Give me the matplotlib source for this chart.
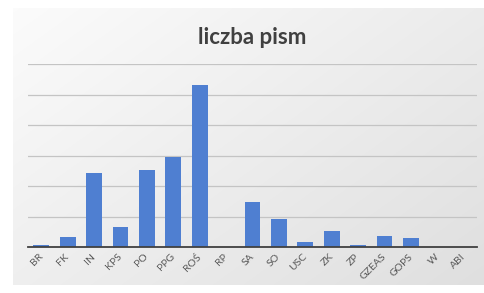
import numpy as np
import matplotlib
matplotlib.use("Agg")
import matplotlib.pyplot as plt

categories = ["BR", "FK", "IN", "KPS", "PO", "PPG", "ROŚ", "RP", "SA", "SO",
              "USC", "ZK", "ZP", "GZEAS", "GOPS", "W", "ABI"]
values = [3, 16, 121, 33, 127, 147, 266, 0, 74, 46, 8, 27, 3, 18, 14, 0, 0]
title = "liczba pism"

plt.rcParams['font.family'] = ['Lato', 'DejaVu Sans']

W, H = 484, 293
fig = plt.figure(figsize=(W / 100, H / 100), dpi=100)
fig.patch.set_facecolor("white")

# gradient chart-area background
bg = fig.add_axes([13 / W, 1 - 285 / H, (W - 13) / W, (285 - 8) / H], zorder=0)
yy, xx = np.mgrid[0:1:200j, 0:1:300j]
grad = 0.985 - 0.11 * (0.55 * xx + 0.45 * yy)
bg.imshow(np.dstack([grad, grad, grad]), aspect="auto", extent=[0, 1, 0, 1], origin="upper")
bg.set_axis_off()

ax = fig.add_axes([28 / W, 1 - 247 / H, (477 - 28) / W, (247 - 64) / H], zorder=1)
ax.patch.set_alpha(0)
x = np.arange(len(categories))
ax.bar(x, values, width=0.6, color="#4f7fd1", zorder=3)
ax.set_xlim(-0.5, len(categories) - 0.5)
ax.set_ylim(0, 300)
ax.set_yticks(np.arange(0, 301, 50))
ax.yaxis.grid(True, color="#c4c4c4", linewidth=0.9)
ax.set_axisbelow(True)
ax.tick_params(axis="y", left=False, labelleft=False)
ax.set_xticks(x)
ax.set_xticklabels(categories)
ax.tick_params(axis="x", length=0, pad=6, labelsize=7.5, labelcolor="#595959",
               labelrotation=45)
plt.setp(ax.get_xticklabels(), ha="right", va="center", rotation_mode="anchor")
for s in ["top", "right", "left"]:
    ax.spines[s].set_visible(False)
ax.spines["bottom"].set_color("#404040")
ax.spines["bottom"].set_linewidth(1.3)
ax.spines["bottom"].set_zorder(4)

fig.text(252 / W, 1 - 37 / H, title, ha="center", va="center",
         fontsize=16, fontweight="bold", color="#404040")

fig.savefig("out.png", dpi=100)
